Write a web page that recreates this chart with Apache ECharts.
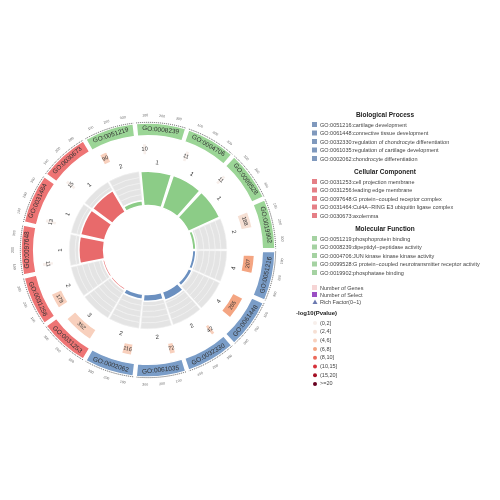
<!DOCTYPE html>
<html><head><meta charset="utf-8">
<script src="https://cdn.jsdelivr.net/npm/echarts@6/dist/echarts.min.js"></script>
<style>html,body{margin:0;background:#fff}#c{width:500px;height:500px}</style>
</head><body><div id="c"></div>
<script>
const categories = ['GO:0051216','GO:0061448','GO:0032330','GO:0061035','GO:0002062',
 'GO:0031253','GO:0031256','GO:0097648','GO:0031464','GO:0030673',
 'GO:0051219','GO:0008239','GO:0004706','GO:0099528','GO:0019902'];
const groups = ['BP','BP','BP','BP','BP','CC','CC','CC','CC','CC','MF','MF','MF','MF','MF'];
const geneCounts = [207,265,42,72,116,352,179,11,13,15,90,10,11,11,188];
const selectCounts = [4,4,2,2,2,3,2,1,1,1,2,1,1,1,2];
const richFactor = [0.1,0.12,0.25,0.2,0.15,0.06,0.06,0.72,0.72,0.72,0.15,1,1,1,0.1];
const pLevel = [3,3,2,2,2,2,2,0,0,0,2,0,0,0,1];
const tickLabels = ['100','200','300'];
const bpTerms = ['GO:0051216:cartilage development','GO:0061448:connective tissue development','GO:0032330:regulation of chondrocyte differentiation','GO:0061035:regulation of cartilage development','GO:0002062:chondrocyte differentiation'];
const ccTerms = ['GO:0031253:cell projection membrane','GO:0031256:leading edge membrane','GO:0097648:G protein−coupled receptor complex','GO:0031464:Cul4A−RING E3 ubiquitin ligase complex','GO:0030673:axolemma'];
const mfTerms = ['GO:0051219:phosphoprotein binding','GO:0008239:dipeptidyl−peptidase activity','GO:0004706:JUN kinase kinase kinase activity','GO:0099528:G protein−coupled neurotransmitter receptor activity','GO:0019902:phosphatase binding'];
const pLegend = ['(0,2]','(2,4]','(4,6]','(6,8]','(8,10]','(10,15]','(15,20]','>=20'];
const pColors = ['#f7efeb','#f6e0d4','#f8d0bd','#f4a582','#ec6a5a','#d6303a','#a50f24','#67001f'];
const bandColor = {BP:'#7a9dc8',CC:'#ee7474',MF:'#9bd596'};
const barColor = {BP:'#6b90c0',CC:'#e86a6b',MF:'#8ccc87'};
const legColor = {BP:'#8099bd',CC:'#e57f86',MF:'#a5d2a2'};

const chart = echarts.init(document.getElementById('c'));
const D = Math.PI/180, SEG = 24;
function renderItem(params, api){
  const i = api.value(0);
  const c = api.coord([0,0]);
  const e = api.coord([1,0]);
  const R = Math.hypot(e[0]-c[0], e[1]-c[1]);
  const cx=c[0], cy=c[1];
  const a0 = i*SEG*D, a1=(i+1)*SEG*D, am=(i+0.5)*SEG*D;
  const g = groups[i];
  const ch = [];
  const sec=(r0,r1,s,t,fill,stroke)=>({type:'sector',shape:{cx,cy,r0:r0*R,r:r1*R,startAngle:s,endAngle:t},style:{fill,stroke:stroke||'#fff',lineWidth:stroke?0.6:1.5}});
  function txt(r,ang,text,size,color){
    let rot = -(ang+Math.PI/2);
    const deg = (ang/D)%360;
    if(deg>0 && deg<180) rot += Math.PI;
    return {type:'text',x:cx+r*R*Math.cos(ang),y:cy+r*R*Math.sin(ang),rotation:rot,
      style:{text,fontSize:size,fill:color||'#333',align:'center',verticalAlign:'middle',fontFamily:'Liberation Sans'}};
  }
  ch.push(sec(0.9,1.0,a0+0.012,a1-0.012,bandColor[g]));
  ch.push(txt(0.95,am,categories[i],6.5,'#333'));
  ch.push({type:'arc',shape:{cx,cy,r:1.005*R,startAngle:a0+0.012,endAngle:a1-0.012},style:{stroke:'#555',lineWidth:1,fill:null,lineDash:[1,1]}});
  tickLabels.forEach((t,k)=>{ ch.push(txt(1.06,a0+(0.2+0.3*k)*SEG*D,t,3.5,'#666')); });
  const frac = Math.min(geneCounts[i]/500,1);
  const gs = a0+0.12*SEG*D, ge = gs+Math.max(frac,0.1)*SEG*D;
  ch.push(sec(0.75,0.84,gs,ge,pColors[pLevel[i]],null));
  ch.push(txt(0.795,(gs+ge)/2,String(geneCounts[i]),5.5,'#333'));
  ch.push(txt(0.69,am,String(selectCounts[i]),6,'#333'));
  const r0=0.35, r1=0.62, n=6;
  for(let k=0;k<n;k++){
    ch.push(sec(r0+(r1-r0)*k/n,r0+(r1-r0)*(k+1)/n,a0+0.012,a1-0.012,'#e4e4e4','#f2f2f2'));
  }
  ch.push(sec(r0,r0+(r1-r0)*richFactor[i],a0+0.012,a1-0.012,barColor[g]));
  return {type:'group',children:ch};
}
const legend = [];
function head(y,t){legend.push({type:'text',x:385,y,style:{text:t,fontSize:6.5,fontWeight:'bold',fill:'#222',align:'center',verticalAlign:'middle',fontFamily:'Liberation Sans'}});}
function item(y,t,col,shape){
  if(shape==='circle') legend.push({type:'circle',shape:{cx:315,cy:y,r:2},style:{fill:col}});
  else if(shape==='tri') legend.push({type:'polygon',shape:{points:[[315,y-2.5],[312.5,y+2],[317.5,y+2]]},style:{fill:col}});
  else legend.push({type:'rect',shape:{x:312,y:y-3,width:5,height:5},style:{fill:col}});
  legend.push({type:'text',x:320,y,style:{text:t,fontSize:5.5,fill:'#444',verticalAlign:'middle',fontFamily:'Liberation Sans'}});
}
head(115,'Biological Process'); bpTerms.forEach((t,k)=>item(125+k*8.5,t,legColor.BP));
head(172,'Cellular Component'); ccTerms.forEach((t,k)=>item(182+k*8.5,t,legColor.CC));
head(229,'Molecular Function'); mfTerms.forEach((t,k)=>item(239+k*8.5,t,legColor.MF));
item(288,'Number of Genes','#f6d5d5'); item(295,'Number of Select','#9b4fc4'); item(302,'Rich Factor(0~1)','#6b79b0','tri');
legend.push({type:'text',x:296,y:313,style:{text:'-log10(Pvalue)',fontSize:6,fontWeight:'bold',fill:'#222',verticalAlign:'middle',fontFamily:'Liberation Sans'}});
pLegend.forEach((t,k)=>item(323+k*8.7,t,pColors[k],'circle'));

chart.setOption({
  animation:false,
  polar:{center:[148,250],radius:127},
  angleAxis:{type:'value',min:0,max:15,startAngle:0,show:false},
  radiusAxis:{type:'value',min:0,max:1,show:false},
  series:[{type:'custom',coordinateSystem:'polar',renderItem,data:categories.map((c,i)=>[i])}],
  graphic:legend
});
</script></body></html>
